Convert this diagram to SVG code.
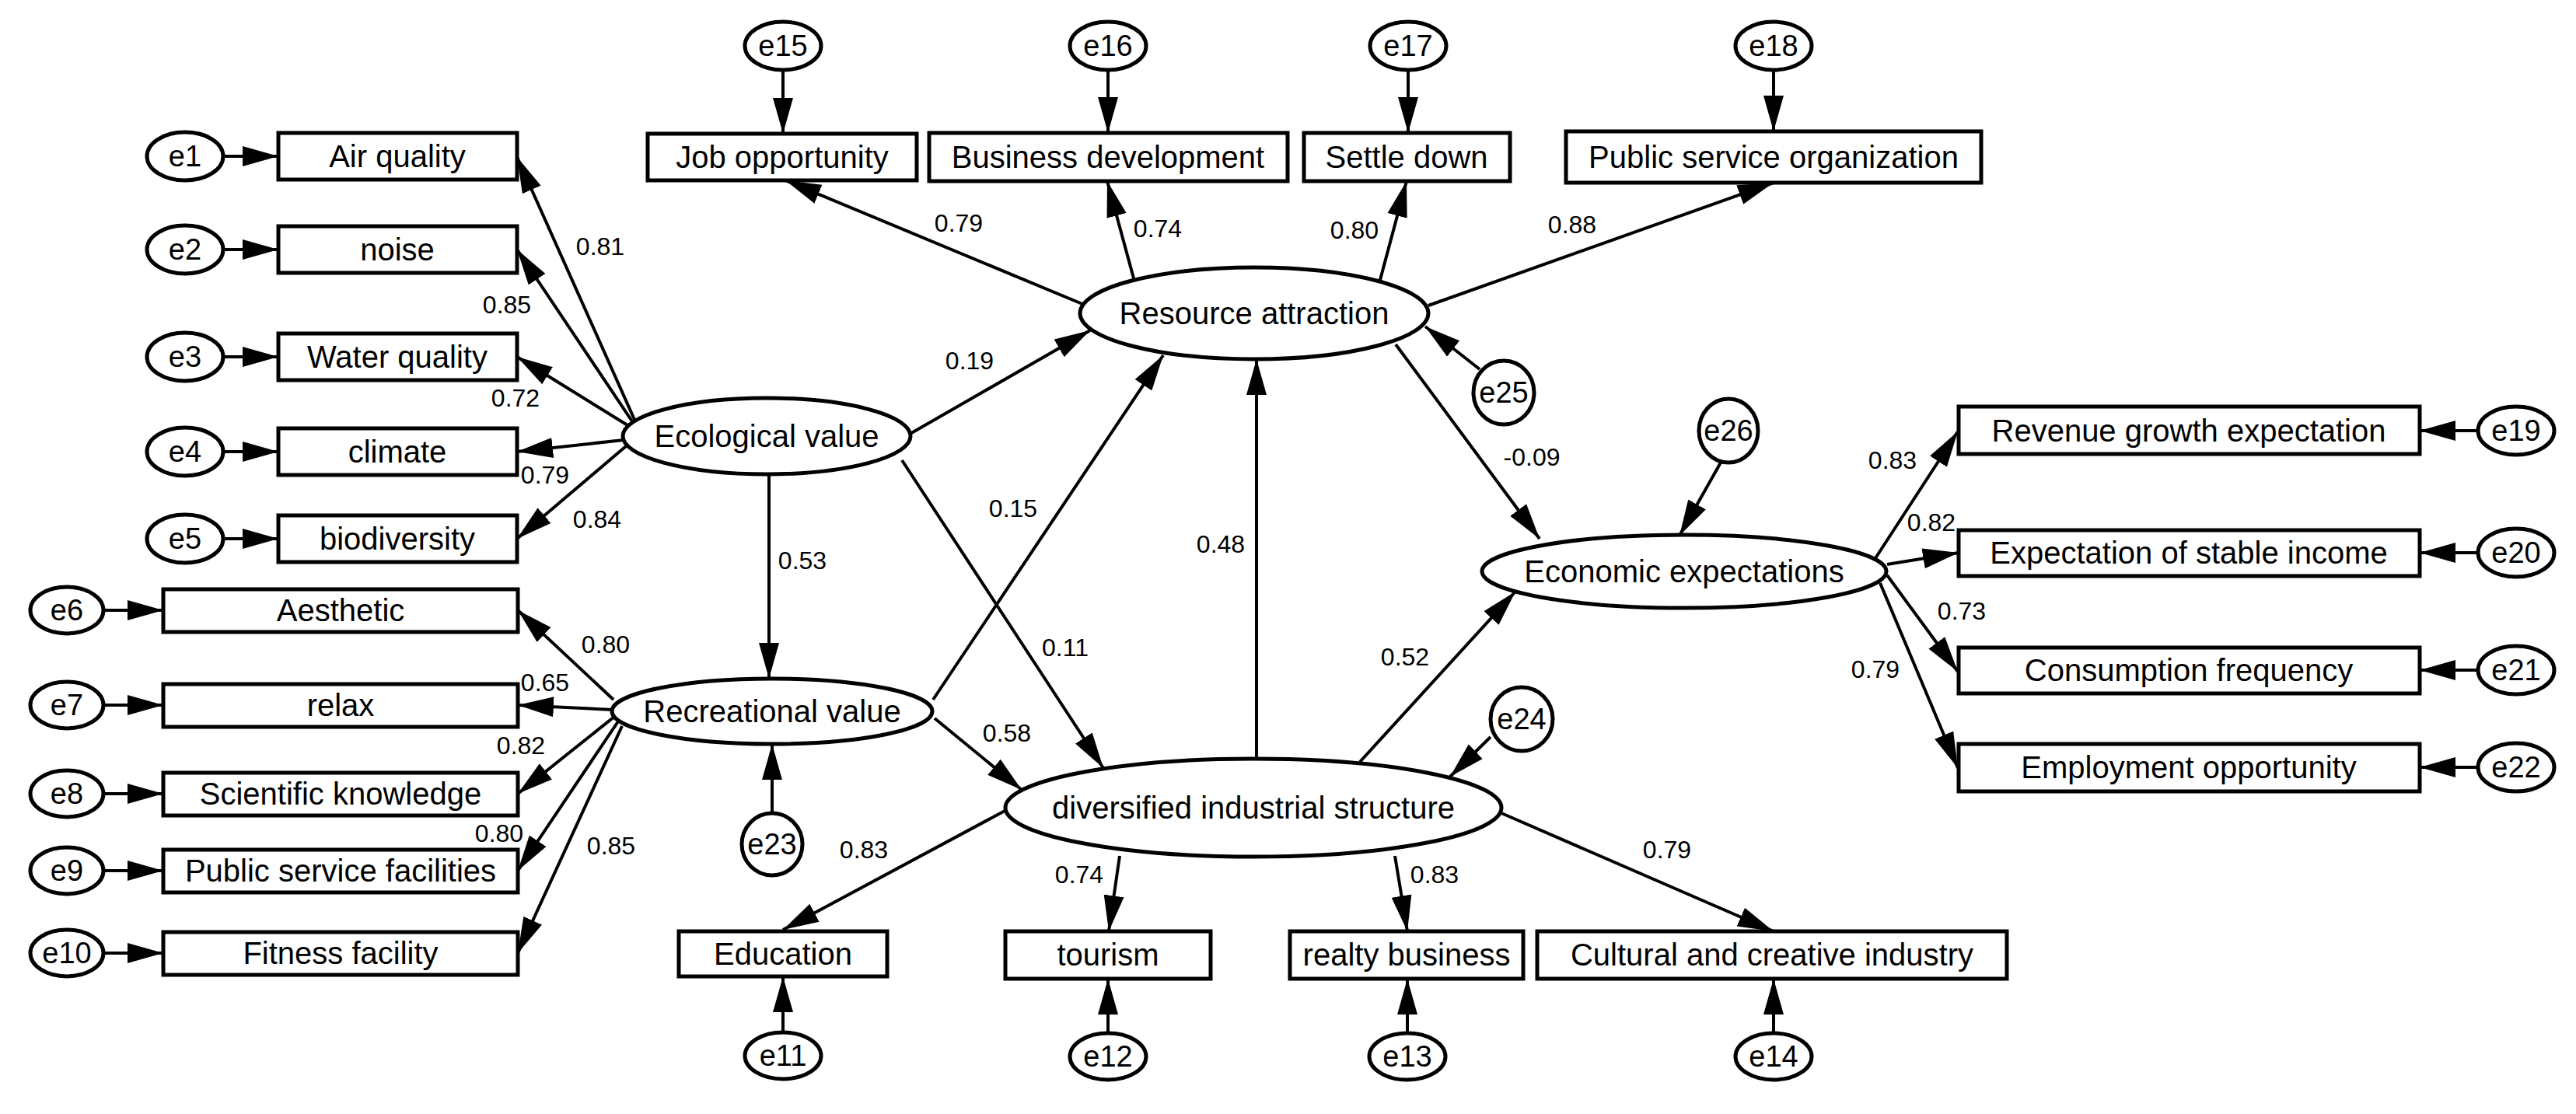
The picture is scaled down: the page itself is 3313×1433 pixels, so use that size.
<svg xmlns="http://www.w3.org/2000/svg" width="3313" height="1433" viewBox="0 0 3313 1433">
<style>
.b{fill:#fff;stroke:#000;stroke-width:5}
.o{fill:#fff;stroke:#000;stroke-width:5}
text{font-family:"Liberation Sans",Arial,sans-serif;fill:#000}
.t{font-size:40px;text-anchor:middle;dominant-baseline:central}
.e{font-size:38px;text-anchor:middle;dominant-baseline:central}
.n{font-size:32px;text-anchor:middle;dominant-baseline:central}
#c line{stroke:#000;stroke-width:4;marker-end:url(#a)}
</style>
<defs><marker id="a" markerUnits="userSpaceOnUse" markerWidth="48" markerHeight="28" refX="46" refY="14" orient="auto" viewBox="0 0 48 28"><path d="M0,1 L46,14 L0,27 z" fill="#000"/></marker></defs>
<g id="c">
<line x1="288" y1="201" x2="358" y2="201"/><line x1="288" y1="321" x2="358" y2="321"/><line x1="288" y1="459" x2="358" y2="459"/><line x1="288" y1="581" x2="358" y2="581"/><line x1="288" y1="693" x2="358" y2="693"/>
<line x1="133" y1="785" x2="210" y2="785"/><line x1="133" y1="907" x2="210" y2="907"/><line x1="133" y1="1021" x2="210" y2="1021"/><line x1="133" y1="1120" x2="210" y2="1120"/><line x1="133" y1="1226" x2="210" y2="1226"/>
<line x1="817" y1="542" x2="665" y2="202"/><line x1="815" y1="545" x2="665" y2="321"/><line x1="812" y1="550" x2="665" y2="459"/><line x1="802" y1="566" x2="665" y2="581"/><line x1="805" y1="574" x2="665" y2="693"/>
<line x1="789" y1="900" x2="666" y2="785"/><line x1="789" y1="913" x2="666" y2="907"/><line x1="790" y1="922" x2="666" y2="1021"/><line x1="795" y1="928" x2="666" y2="1120"/><line x1="800" y1="934" x2="666" y2="1226"/>
<line x1="1007" y1="90" x2="1007" y2="172"/><line x1="1425" y1="90" x2="1425" y2="171"/><line x1="1811" y1="90" x2="1811" y2="171"/><line x1="2281" y1="90" x2="2281" y2="169"/>
<line x1="1392" y1="391" x2="1010" y2="232"/><line x1="1458" y1="358" x2="1424" y2="233"/><line x1="1775" y1="360" x2="1809" y2="233"/><line x1="1837" y1="393" x2="2281" y2="235"/>
<line x1="1167" y1="560" x2="1402" y2="425"/><line x1="1200" y1="900" x2="1496" y2="457"/><line x1="1616" y1="976" x2="1616" y2="462"/>
<line x1="1903" y1="475" x2="1833" y2="420"/><line x1="1795" y1="443" x2="1980" y2="693"/>
<line x1="989" y1="610" x2="989" y2="873"/><line x1="993" y1="1046" x2="993" y2="957"/>
<line x1="1160" y1="592" x2="1419" y2="988"/><line x1="1202" y1="924" x2="1314" y2="1016"/>
<line x1="1749" y1="980" x2="1949" y2="761"/><line x1="1917" y1="948" x2="1865" y2="999"/><line x1="2213" y1="595" x2="2160" y2="689"/>
<line x1="1296" y1="1041" x2="1007" y2="1196"/><line x1="1440" y1="1101" x2="1426" y2="1198"/><line x1="1794" y1="1101" x2="1810" y2="1198"/><line x1="1931" y1="1046" x2="2281" y2="1198"/>
<line x1="1007" y1="1329" x2="1007" y2="1256"/><line x1="1425" y1="1329" x2="1425" y2="1259"/><line x1="1810" y1="1329" x2="1810" y2="1259"/><line x1="2281" y1="1329" x2="2281" y2="1259"/>
<line x1="2412" y1="718" x2="2518" y2="555"/><line x1="2427" y1="726" x2="2519" y2="711"/><line x1="2427" y1="740" x2="2518" y2="864"/><line x1="2418" y1="750" x2="2518" y2="988"/>
<line x1="3187" y1="554" x2="3112" y2="554"/><line x1="3187" y1="711" x2="3112" y2="711"/><line x1="3187" y1="862" x2="3112" y2="862"/><line x1="3187" y1="987" x2="3112" y2="987"/>
</g>
<g id="labels">
<text class="n" x="772" y="317">0.81</text><text class="n" x="652" y="392">0.85</text><text class="n" x="663" y="512">0.72</text><text class="n" x="701" y="611">0.79</text><text class="n" x="768" y="668">0.84</text>
<text class="n" x="779" y="829">0.80</text><text class="n" x="701" y="878">0.65</text><text class="n" x="670" y="959">0.82</text><text class="n" x="642" y="1072">0.80</text><text class="n" x="786" y="1088">0.85</text>
<text class="n" x="1032" y="721">0.53</text>
<text class="n" x="1233" y="287">0.79</text><text class="n" x="1489" y="294">0.74</text><text class="n" x="1742" y="296">0.80</text><text class="n" x="2022" y="289">0.88</text>
<text class="n" x="1247" y="464">0.19</text><text class="n" x="1303" y="654">0.15</text><text class="n" x="1570" y="700">0.48</text><text class="n" x="1970" y="588">-0.09</text>
<text class="n" x="1370" y="833">0.11</text><text class="n" x="1295" y="943">0.58</text><text class="n" x="1807" y="845">0.52</text>
<text class="n" x="1111" y="1093">0.83</text><text class="n" x="1388" y="1125">0.74</text><text class="n" x="1845" y="1125">0.83</text><text class="n" x="2144" y="1093">0.79</text>
<text class="n" x="2434" y="592">0.83</text><text class="n" x="2484" y="672">0.82</text><text class="n" x="2523" y="786">0.73</text><text class="n" x="2412" y="861">0.79</text>
</g>
<g id="e1"><ellipse class="o" cx="238" cy="201" rx="49" ry="31"/><text class="e" x="238" y="201">e1</text></g>
<g id="e2"><ellipse class="o" cx="238" cy="321" rx="49" ry="31"/><text class="e" x="238" y="321">e2</text></g>
<g id="e3"><ellipse class="o" cx="238" cy="459" rx="49" ry="31"/><text class="e" x="238" y="459">e3</text></g>
<g id="e4"><ellipse class="o" cx="238" cy="581" rx="49" ry="31"/><text class="e" x="238" y="581">e4</text></g>
<g id="e5"><ellipse class="o" cx="238" cy="693" rx="49" ry="31"/><text class="e" x="238" y="693">e5</text></g>
<g id="e6"><ellipse class="o" cx="86" cy="785" rx="47" ry="30"/><text class="e" x="86" y="785">e6</text></g>
<g id="e7"><ellipse class="o" cx="86" cy="907" rx="47" ry="30"/><text class="e" x="86" y="907">e7</text></g>
<g id="e8"><ellipse class="o" cx="86" cy="1021" rx="47" ry="30"/><text class="e" x="86" y="1021">e8</text></g>
<g id="e9"><ellipse class="o" cx="86" cy="1120" rx="47" ry="30"/><text class="e" x="86" y="1120">e9</text></g>
<g id="e10"><ellipse class="o" cx="86" cy="1226" rx="47" ry="30"/><text class="e" x="86" y="1226">e10</text></g>
<g id="air"><rect class="b" x="358" y="171" width="307" height="60"/><text class="t" x="511" y="201">Air quality</text></g>
<g id="noise"><rect class="b" x="358" y="291" width="307" height="60"/><text class="t" x="511" y="321">noise</text></g>
<g id="water"><rect class="b" x="358" y="429" width="307" height="60"/><text class="t" x="511" y="459">Water quality</text></g>
<g id="climate"><rect class="b" x="358" y="551" width="307" height="60"/><text class="t" x="511" y="581">climate</text></g>
<g id="bio"><rect class="b" x="358" y="663" width="307" height="60"/><text class="t" x="511" y="693">biodiversity</text></g>
<g id="aes"><rect class="b" x="210" y="758" width="456" height="55"/><text class="t" x="438" y="785">Aesthetic</text></g>
<g id="relax"><rect class="b" x="210" y="880" width="456" height="55"/><text class="t" x="438" y="907">relax</text></g>
<g id="sci"><rect class="b" x="210" y="994" width="456" height="55"/><text class="t" x="438" y="1021">Scientific knowledge</text></g>
<g id="psf"><rect class="b" x="210" y="1093" width="456" height="55"/><text class="t" x="438" y="1120">Public service facilities</text></g>
<g id="fit"><rect class="b" x="210" y="1199" width="456" height="55"/><text class="t" x="438" y="1226">Fitness facility</text></g>
<g id="eco"><ellipse class="o" cx="986" cy="561" rx="185" ry="49"/><text class="t" x="986" y="561">Ecological value</text></g>
<g id="rec"><ellipse class="o" cx="993" cy="915" rx="206" ry="42"/><text class="t" x="993" y="915">Recreational value</text></g>
<g id="e23"><ellipse class="o" cx="993" cy="1086" rx="39" ry="40"/><text class="e" x="993" y="1086">e23</text></g>
<g id="e15"><ellipse class="o" cx="1007" cy="59" rx="49" ry="31"/><text class="e" x="1007" y="59">e15</text></g>
<g id="e16"><ellipse class="o" cx="1425" cy="59" rx="49" ry="31"/><text class="e" x="1425" y="59">e16</text></g>
<g id="e17"><ellipse class="o" cx="1811" cy="59" rx="49" ry="31"/><text class="e" x="1811" y="59">e17</text></g>
<g id="e18"><ellipse class="o" cx="2281" cy="59" rx="49" ry="31"/><text class="e" x="2281" y="59">e18</text></g>
<g id="job"><rect class="b" x="833" y="172" width="346" height="60"/><text class="t" x="1006" y="202">Job opportunity</text></g>
<g id="bus"><rect class="b" x="1195" y="171" width="461" height="62"/><text class="t" x="1425" y="202">Business development</text></g>
<g id="settle"><rect class="b" x="1677" y="171" width="265" height="62"/><text class="t" x="1809" y="202">Settle down</text></g>
<g id="pso"><rect class="b" x="2014" y="169" width="534" height="66"/><text class="t" x="2281" y="202">Public service organization</text></g>
<g id="ra"><ellipse class="o" cx="1613" cy="403" rx="224" ry="59"/><text class="t" x="1613" y="403">Resource attraction</text></g>
<g id="e25"><ellipse class="o" cx="1934" cy="505" rx="39" ry="41"/><text class="e" x="1934" y="505">e25</text></g>
<g id="e26"><ellipse class="o" cx="2223" cy="554" rx="38" ry="41"/><text class="e" x="2223" y="554">e26</text></g>
<g id="econ"><ellipse class="o" cx="2166" cy="735" rx="260" ry="47"/><text class="t" x="2166" y="735">Economic expectations</text></g>
<g id="e24"><ellipse class="o" cx="1957" cy="925" rx="40" ry="41"/><text class="e" x="1957" y="925">e24</text></g>
<g id="div"><ellipse class="o" cx="1612" cy="1039" rx="319" ry="63"/><text class="t" x="1612" y="1039">diversified industrial structure</text></g>
<g id="edu"><rect class="b" x="873" y="1198" width="268" height="58"/><text class="t" x="1007" y="1227">Education</text></g>
<g id="tour"><rect class="b" x="1293" y="1198" width="264" height="61"/><text class="t" x="1425" y="1228">tourism</text></g>
<g id="realty"><rect class="b" x="1659" y="1198" width="300" height="61"/><text class="t" x="1809" y="1228">realty business</text></g>
<g id="cult"><rect class="b" x="1977" y="1198" width="604" height="61"/><text class="t" x="2279" y="1228">Cultural and creative industry</text></g>
<g id="e11"><ellipse class="o" cx="1007" cy="1358" rx="49" ry="30"/><text class="e" x="1007" y="1358">e11</text></g>
<g id="e12"><ellipse class="o" cx="1425" cy="1359" rx="49" ry="30"/><text class="e" x="1425" y="1359">e12</text></g>
<g id="e13"><ellipse class="o" cx="1810" cy="1359" rx="49" ry="30"/><text class="e" x="1810" y="1359">e13</text></g>
<g id="e14"><ellipse class="o" cx="2281" cy="1359" rx="49" ry="30"/><text class="e" x="2281" y="1359">e14</text></g>
<g id="rev"><rect class="b" x="2519" y="523" width="593" height="61"/><text class="t" x="2815" y="554">Revenue growth expectation</text></g>
<g id="stab"><rect class="b" x="2519" y="682" width="593" height="59"/><text class="t" x="2815" y="711">Expectation of stable income</text></g>
<g id="cons"><rect class="b" x="2519" y="833" width="593" height="59"/><text class="t" x="2815" y="862">Consumption frequency</text></g>
<g id="emp"><rect class="b" x="2519" y="957" width="593" height="61"/><text class="t" x="2815" y="987">Employment opportunity</text></g>
<g id="e19"><ellipse class="o" cx="3236" cy="554" rx="49" ry="31"/><text class="e" x="3236" y="554">e19</text></g>
<g id="e20"><ellipse class="o" cx="3236" cy="711" rx="49" ry="31"/><text class="e" x="3236" y="711">e20</text></g>
<g id="e21"><ellipse class="o" cx="3236" cy="862" rx="49" ry="31"/><text class="e" x="3236" y="862">e21</text></g>
<g id="e22"><ellipse class="o" cx="3236" cy="987" rx="49" ry="31"/><text class="e" x="3236" y="987">e22</text></g>
</svg>
